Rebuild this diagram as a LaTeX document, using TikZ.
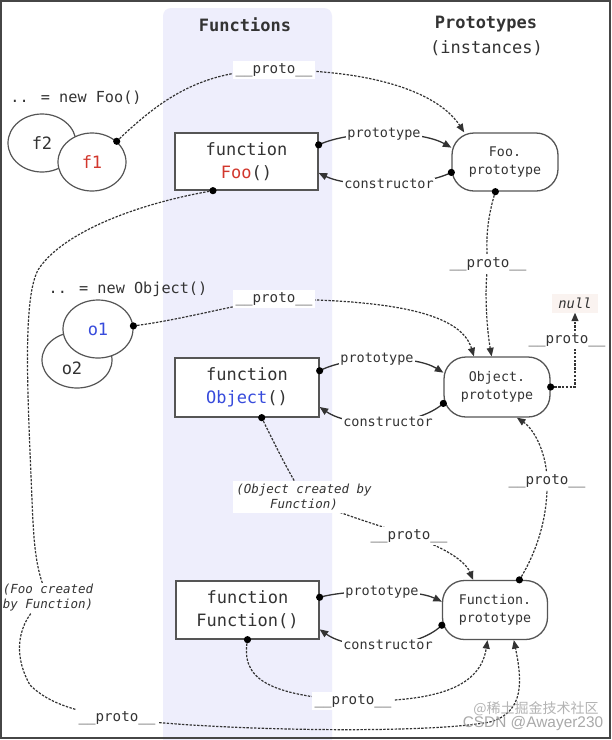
\documentclass[tikz,border=0pt]{standalone}
\usepackage{fontspec}
\setmainfont{DejaVu Sans Mono}
\newfontfamily\cjkfont{Noto Sans CJK SC}
\newfontfamily\wmfont{Liberation Sans}
\usetikzlibrary{arrows.meta,shapes.geometric}
\pgfdeclarelayer{back}
\pgfdeclarelayer{lines}
\pgfsetlayers{back,lines,main}
\definecolor{band}{RGB}{238,238,252}
\definecolor{ink}{RGB}{51,51,51}
\definecolor{fooRed}{RGB}{210,55,45}
\definecolor{objBlue}{RGB}{55,75,220}
\definecolor{nullbg}{RGB}{250,243,240}
\definecolor{edge}{RGB}{85,85,85}
\definecolor{frame}{RGB}{70,70,70}
\definecolor{wm}{RGB}{160,160,160}
\tikzset{
  fnbox/.style={draw=edge, line width=1.3pt, fill=white, minimum width=143pt, minimum height=57pt, align=center, font=\fontsize{17}{23}\selectfont, text=ink, inner sep=0pt},
  protobox/.style={draw=edge, line width=1.3pt, fill=white, rounded corners=22pt, minimum width=106pt, minimum height=58pt, align=center, font=\fontsize{13.3}{18}\selectfont, text=ink, inner sep=0pt},
  inst/.style={ellipse, draw=edge, line width=1.2pt, fill=white, minimum width=68pt, minimum height=58pt, inner sep=0pt, font=\fontsize{17}{20}\selectfont, text=ink},
  plabel/.style={fill=white, inner sep=2.5pt, font=\fontsize{14.2}{16}\selectfont, text=ink},
  rlabel/.style={fill=white, inner sep=1pt, font=\fontsize{13.5}{16}\selectfont, text=ink},
  note/.style={fill=white, inner sep=3pt, align=center, font=\fontsize{12.5}{15}\selectfont\itshape, text=ink},
  heading/.style={font=\fontsize{17}{22}\selectfont, text=ink},
  newlabel/.style={font=\fontsize{15.2}{18}\selectfont, text=ink},
  nullnode/.style={fill=nullbg, minimum width=46pt, minimum height=19pt, inner sep=0pt, font=\fontsize{13.8}{16}\selectfont\itshape, text=ink},
  protoline/.style={draw=ink, line width=1.2pt, dash pattern=on 2.4pt off 1.4pt},
  ptline/.style={draw=ink, line width=1.3pt},
  tip/.style={-{Triangle[length=8.5pt,width=7pt]}},
  dotmark/.style={fill=black}
}
\begin{document}
\begin{tikzpicture}[x=1pt,y=-1pt]
\useasboundingbox (0,0) rectangle (612,740);
\begin{pgfonlayer}{back}
  \fill[white] (0,0) rectangle (612,740);
  \fill[band, rounded corners=8pt] (163,8) rectangle (332,770);
  \draw[frame, line width=1.6pt] (1,1) rectangle (610,738);
\end{pgfonlayer}

% headings
\node[heading, font=\fontsize{17}{22}\selectfont\bfseries] (hfun) at (245,25) {Functions};
\node[heading, font=\fontsize{17}{22}\selectfont\bfseries] (hproto) at (486,24) {Prototypes};
\node[heading] (hinst) at (486.5,48) {(instances)};

% instances
\node[newlabel] (newfoo) at (76,98) {.. = new Foo()};
\node[inst] (f2) at (42,143) {f2};
\node[inst] (f1) at (92,162) {\textcolor{fooRed}{f1}};
\node[newlabel] (newobj) at (128,289) {.. = new Object()};
\node[inst, minimum width=70pt, minimum height=56pt] (o2) at (77,360) {};
\node[font=\fontsize{17}{20}\selectfont, text=ink] (o2t) at (72,368) {o2};
\node[inst, minimum width=70pt] (o1) at (98,329) {\textcolor{objBlue}{o1}};

% function boxes
\node[fnbox] (foo) at (246.5,161.5) {function\\\textcolor{fooRed}{Foo}()};
\node[fnbox, minimum width=144pt, minimum height=59pt] (obj) at (247,387.5) {function\\\textcolor{objBlue}{Object}()};
\node[fnbox, minimum height=58pt] (func) at (247.5,610) {function\\Function()};

% prototype boxes
\node[protobox] (foop) at (505,162) {Foo.\\prototype};
\node[protobox, minimum height=60pt] (objp) at (497,387) {Object.\\prototype};
\node[protobox, minimum width=105pt, minimum height=59pt] (funcp) at (495,610) {Function.\\prototype};
\node[nullnode] (null) at (575,303) {null};

% labels
\node[plabel] (pr1) at (274,70) {\_\_proto\_\_};
\node[plabel] (pr2) at (274,299) {\_\_proto\_\_};
\node[plabel] (pr3) at (488,264) {\_\_proto\_\_};
\node[plabel] (pr4) at (567,340) {\_\_proto\_\_};
\node[plabel] (pr5) at (547,481) {\_\_proto\_\_};
\node[plabel] (pr6) at (409,536) {\_\_proto\_\_};
\node[plabel] (pr7) at (353,701) {\_\_proto\_\_};
\node[plabel] (pr8) at (117,718) {\_\_proto\_\_};
\node[note] (objcreated) at (304,497) {(Object created by\\Function)};
\node[note, inner sep=1pt] (foocreated) at (48,598) {(Foo created\\by Function)};

\node[rlabel] (lp1) at (384,134) {prototype};
\node[rlabel] (lc1) at (389,184) {constructor};
\node[rlabel] (lp2) at (377,359) {prototype};
\node[rlabel] (lc2) at (388,422) {constructor};
\node[rlabel] (lp3) at (382,592) {prototype};
\node[rlabel] (lc3) at (388,645) {constructor};

% watermark
\node[text=wm, opacity=0.8, font=\cjkfont\fontsize{14}{16}\selectfont] (wm1) at (536,709) {@稀土掘金技术社区};
\node[text=wm, opacity=0.9, font=\wmfont\fontsize{15.4}{17}\selectfont] (wm2) at (533,724) {CSDN @Awayer230};

\begin{pgfonlayer}{lines}
  % prototype / constructor
  \draw[ptline, tip] (foo.13) .. controls (350,130) and (420,130) .. (foop.165);
  \draw[ptline, tip] (foop.191) .. controls (420,188) and (350,188) .. (foo.351);
  \draw[ptline, tip] (obj.13) .. controls (350,355) and (415,355) .. (objp.165);
  \draw[ptline, tip] (objp.197) .. controls (415,428) and (350,428) .. (obj.345);
  \draw[ptline, tip] (func.10) .. controls (350,589) and (415,589) .. (funcp.171);
  \draw[ptline, tip] (funcp.196) .. controls (415,651) and (350,651) .. (func.345);
  % __proto__ chains
  \draw[protoline, tip] (f1.40) .. controls (160,100) and (200,70) .. (pr1.center)
     .. controls (380,70) and (440,95) .. (foop.144);
  \draw[protoline, tip] (o1.5) .. controls (180,320) and (230,306) .. (pr2.center)
     .. controls (380,300) and (460,310) .. (objp.127);
  \draw[protoline, tip] (foop.252) .. controls (488,215) and (485,240) .. (pr3.center)
     .. controls (484,290) and (487,330) .. (objp.100);
  \draw[protoline, tip] (objp.east) -| (null.south);
  \draw[protoline, tip] (funcp.51) .. controls (535,555) and (548,520) .. (pr5.center)
     .. controls (547,455) and (535,430) .. (objp.303);
  \draw[protoline, tip] (obj.296) .. controls (275,445) and (290,475) .. (objcreated.center)
     .. controls (340,515) and (380,525) .. (pr6.center)
     .. controls (440,545) and (465,560) .. (funcp.126);
  \draw[protoline, tip] (func.south) .. controls (240,680) and (270,695) .. (pr7.center)
     .. controls (430,702) and (480,690) .. (funcp.256);
  \draw[protoline, tip] (foo.221) .. controls (130,205) and (60,235) .. (38,270)
     .. controls (22,300) and (28,400) .. (32,500)
     .. controls (34,550) and (36,570) .. (foocreated.center)
     .. controls (20,615) and (10,650) .. (30,685)
     .. controls (50,705) and (80,712) .. (pr8.center)
     .. controls (200,730) and (420,735) .. (490,722)
     .. controls (525,712) and (522,680) .. (funcp.302);
\end{pgfonlayer}

% dots
\fill[dotmark] (foo.13) circle (3.6);
\fill[dotmark] (foop.191) circle (3.6);
\fill[dotmark] (obj.13) circle (3.6);
\fill[dotmark] (objp.197) circle (3.6);
\fill[dotmark] (func.10) circle (3.6);
\fill[dotmark] (funcp.196) circle (3.6);
\fill[dotmark] (f1.40) circle (3.6);
\fill[dotmark] (o1.5) circle (3.6);
\fill[dotmark] (foop.252) circle (3.6);
\fill[dotmark] (objp.east) circle (3.6);
\fill[dotmark] (funcp.51) circle (3.6);
\fill[dotmark] (obj.296) circle (3.6);
\fill[dotmark] (func.south) circle (3.6);
\fill[dotmark] (foo.221) circle (3.6);
\end{tikzpicture}
\end{document}
